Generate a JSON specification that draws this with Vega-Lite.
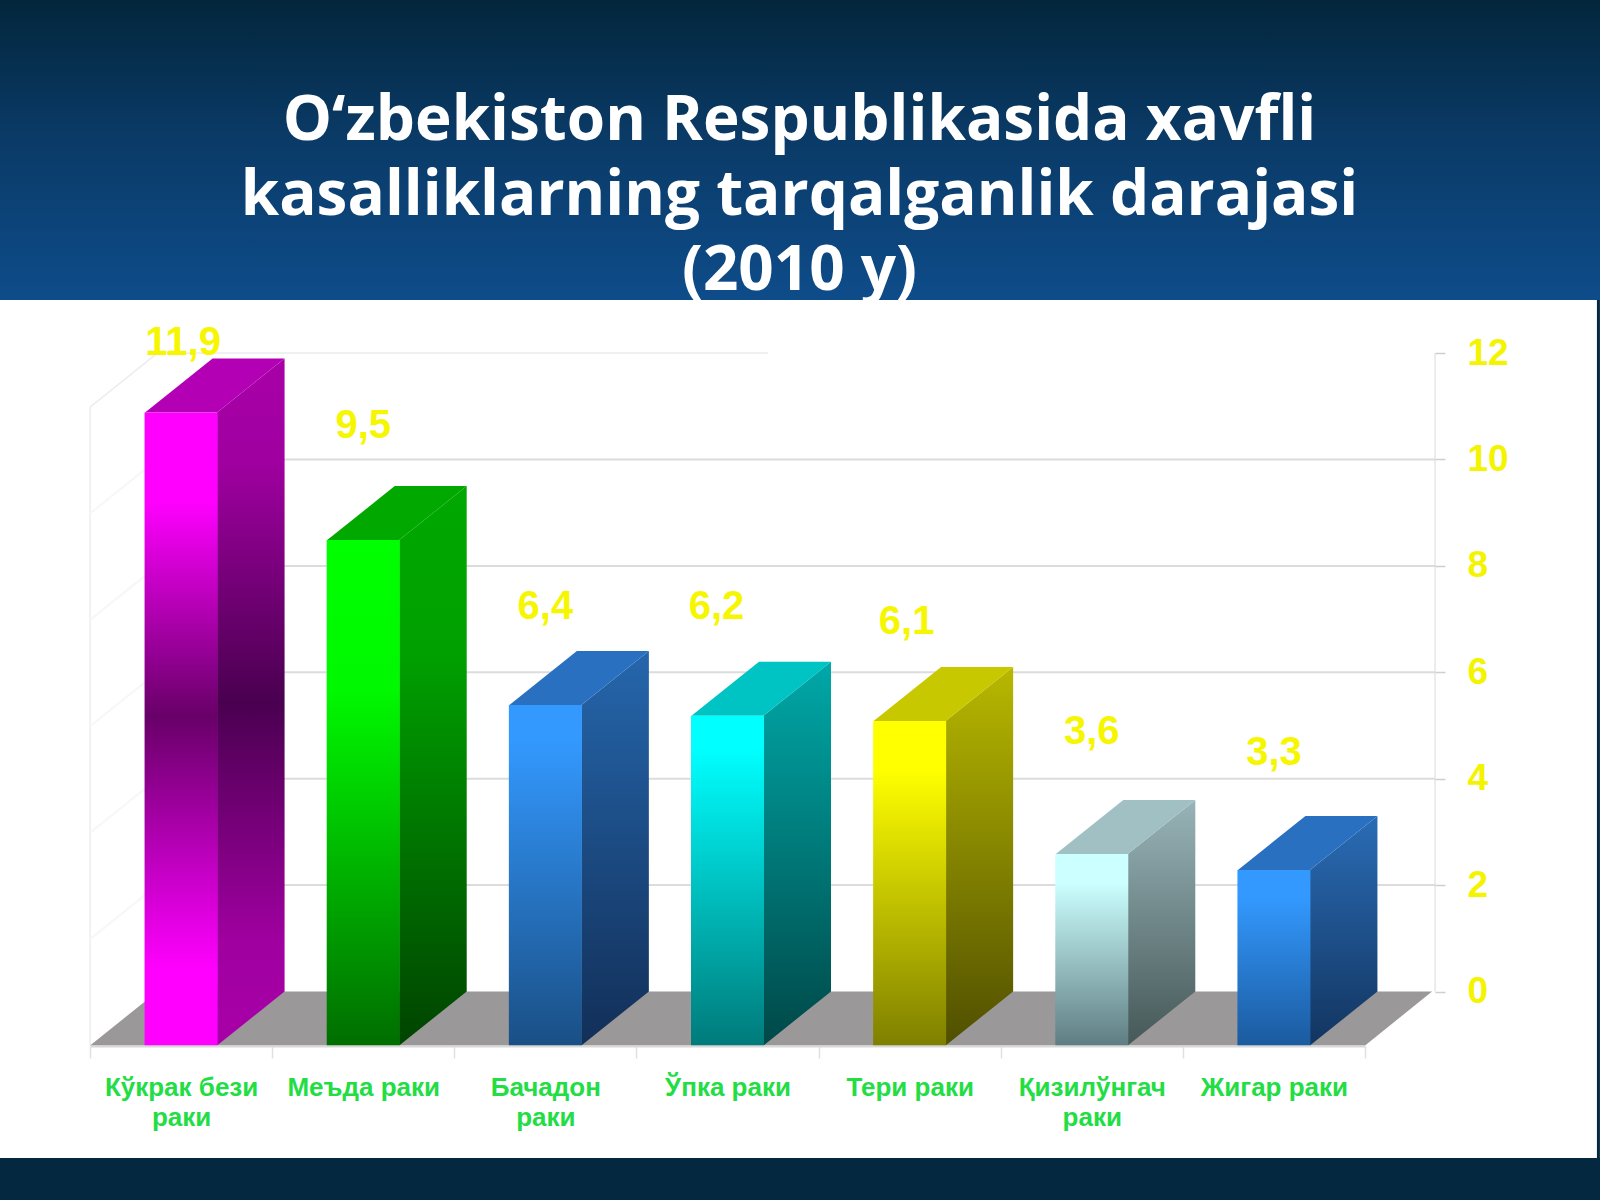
{
  "$schema": "https://vega.github.io/schema/vega-lite/v6.json",
  "width": 1600,
  "height": 1200,
  "padding": 0,
  "autosize": "none",
  "background": "#03283f",
  "view": {"stroke": null},
  "datasets": {
    "cancers": [
      {"category": "Кўкрак бези раки", "value": 11.9, "label": "11,9"},
      {"category": "Меъда раки", "value": 9.5, "label": "9,5"},
      {"category": "Бачадон раки", "value": 6.4, "label": "6,4"},
      {"category": "Ўпка раки", "value": 6.2, "label": "6,2"},
      {"category": "Тери раки", "value": 6.1, "label": "6,1"},
      {"category": "Қизилўнгач раки", "value": 3.6, "label": "3,6"},
      {"category": "Жигар раки", "value": 3.3, "label": "3,3"}
    ],
    "levels": [{"level": 2}, {"level": 4}, {"level": 6}, {"level": 8}, {"level": 10}],
    "base": [{"level": 0}]
  },
  "data": {"name": "cancers"},
  "encoding": {
    "x": {
      "field": "category",
      "type": "nominal",
      "sort": null,
      "title": null,
      "scale": {
        "type": "band",
        "domain": ["Кўкрак бези раки", "Меъда раки", "Бачадон раки", "Ўпка раки", "Тери раки", "Қизилўнгач раки", "Жигар раки"],
        "range": [90, 1365],
        "paddingInner": 0,
        "paddingOuter": 0
      },
      "axis": {
        "orient": "bottom",
        "offset": -154,
        "zindex": 1,
        "grid": false,
        "tickBand": "extent",
        "tickSize": 12,
        "tickColor": "#e0e0e0",
        "tickWidth": 1.5,
        "domainColor": "#d8d8d8",
        "domainWidth": 2,
        "labelAngle": 0,
        "labelAlign": "center",
        "labelBaseline": "top",
        "labelOverlap": false,
        "labelBound": false,
        "labelFlush": false,
        "labelPadding": 16,
        "labelFont": "Liberation Sans",
        "labelFontWeight": "bold",
        "labelFontSize": 26,
        "labelLineHeight": 30,
        "labelColor": "#22dd44",
        "labelExpr": "datum.label == 'Кўкрак бези раки' ? ['Кўкрак бези', 'раки'] : datum.label == 'Бачадон раки' ? ['Бачадон', 'раки'] : datum.label == 'Қизилўнгач раки' ? ['Қизилўнгач', 'раки'] : datum.label"
      }
    },
    "y": {
      "field": "value",
      "type": "quantitative",
      "title": null,
      "scale": {"domain": [-3.919, 18.637], "range": [1200, 0], "nice": false, "zero": false},
      "axis": {
        "orient": "right",
        "offset": -165,
        "zindex": 1,
        "grid": false,
        "domain": false,
        "values": [0, 2, 4, 6, 8, 10, 12],
        "tickSize": 10,
        "tickColor": "#cfcfcf",
        "tickWidth": 1.5,
        "labelPadding": 22,
        "labelFont": "Liberation Sans",
        "labelFontWeight": "bold",
        "labelFontSize": 37,
        "labelColor": "#f4f400"
      }
    }
  },
  "layer": [
    {
      "mark": {
        "type": "rect",
        "fill": {
          "gradient": "linear", "x1": 0, "y1": 0, "x2": 0, "y2": 1,
          "stops": [
            {"offset": 0, "color": "#03263c"},
            {"offset": 0.45, "color": "#0a3a66"},
            {"offset": 1, "color": "#0e4c8a"}
          ]
        }
      },
      "encoding": {"x": null, "y": {"datum": 18.637}, "y2": {"datum": 12.998}}
    },
    {
      "data": {"values": [{"heading": "Ўпка раки", "level": 16.006}]},
      "mark": {
        "type": "text",
        "font": "Open Sans",
        "fontWeight": "bold",
        "fontSize": 62,
        "lineHeight": 75,
        "align": "center",
        "baseline": "alphabetic",
        "fill": "#ffffff",
        "dx": 72
      },
      "encoding": {
        "x": {"field": "heading", "type": "nominal"},
        "y": {"field": "level", "type": "quantitative"},
        "text": {"value": ["O‘zbekiston Respublikasida xavfli", "kasalliklarning tarqalganlik darajasi ", "(2010 y)"]}
      }
    },
    {
      "mark": {"type": "rect", "fill": "#ffffff"},
      "encoding": {"x": null, "y": {"datum": 12.998}, "y2": {"datum": -3.13}}
    },
    {
      "mark": {"type": "point", "filled": false, "stroke": "#03283f", "strokeWidth": 3, "size": 4, "opacity": 1,
        "shape": "M324.5,-691.5 L324.5,166.5"},
      "data": {"name": "base"},
      "encoding": {"x": {"datum": "Жигар раки"}, "y": {"field": "level", "type": "quantitative"}}
    },
    {
      "mark": {"type": "point", "filled": false, "stroke": "#ededed", "strokeWidth": 1.5, "size": 4, "opacity": 1,
        "shape": "M-91,54 L-91,-584.4 M-91,-584.4 L-23.7,-638.4"},
      "data": {"name": "base"},
      "encoding": {"x": {"datum": "Кўкрак бези раки"}, "y": {"field": "level", "type": "quantitative"}}
    },
    {
      "mark": {"type": "point", "filled": false, "stroke": "#e6e6e6", "strokeWidth": 1.5, "size": 4, "opacity": 1,
        "shape": "M1254,0 L1254,-638.4"},
      "data": {"name": "base"},
      "encoding": {"x": {"datum": "Кўкрак бези раки"}, "y": {"field": "level", "type": "quantitative"}}
    },
    {
      "mark": {"type": "point", "filled": false, "stroke": "#f7f7f7", "strokeWidth": 2, "size": 4, "opacity": 1,
        "shape": "M-91,54 L-23.7,0"},
      "data": {"name": "levels"},
      "encoding": {"x": {"datum": "Кўкрак бези раки"}, "y": {"field": "level", "type": "quantitative"}}
    },
    {
      "mark": {"type": "point", "filled": false, "stroke": "#dcdcdc", "strokeWidth": 2, "size": 4, "opacity": 1,
        "shape": "M-23.7,0 L1254,0"},
      "data": {"name": "levels"},
      "encoding": {"x": {"datum": "Кўкрак бези раки"}, "y": {"field": "level", "type": "quantitative"}}
    },
    {
      "mark": {"type": "point", "filled": false, "stroke": "#f0f0f0", "strokeWidth": 2, "size": 4, "opacity": 1,
        "shape": "M-23.7,0 L587,0"},
      "data": {"values": [{"level": 12}]},
      "encoding": {"x": {"datum": "Кўкрак бези раки"}, "y": {"field": "level", "type": "quantitative"}}
    },
    {
      "mark": {"type": "point", "filled": true, "fill": "#9a9899", "size": 4, "opacity": 1,
        "shape": "M-91,54 L1184,54 L1251,0 L-23.7,0 Z"},
      "data": {"name": "base"},
      "encoding": {"x": {"datum": "Кўкрак бези раки"}, "y": {"field": "level", "type": "quantitative"}}
    },
    {
      "mark": {"type": "point", "filled": true, "size": 4, "opacity": 1},
      "encoding": {
        "shape": {
          "field": "category", "type": "nominal", "legend": null,
          "scale": {
            "domain": ["Кўкрак бези раки", "Меъда раки", "Бачадон раки", "Ўпка раки", "Тери раки", "Қизилўнгач раки", "Жигар раки"],
            "range": [
              "M36,54 L103.5,0 L103.5,633.1 L36,687.1 Z",
              "M36,54 L103.5,0 L103.5,505.4 L36,559.4 Z",
              "M36,54 L103.5,0 L103.5,340.5 L36,394.5 Z",
              "M36,54 L103.5,0 L103.5,329.8 L36,383.8 Z",
              "M36,54 L103.5,0 L103.5,324.5 L36,378.5 Z",
              "M36,54 L103.5,0 L103.5,191.5 L36,245.5 Z",
              "M36,54 L103.5,0 L103.5,175.6 L36,229.6 Z"
            ]
          }
        },
        "fill": {
          "condition": [
            {"test": "datum.category == 'Кўкрак бези раки'", "value": {"gradient": "linear", "x1": 0, "y1": 0, "x2": 0, "y2": 1, "stops": [{"offset": 0, "color": "#a800a8"}, {"offset": 0.15, "color": "#a000a0"}, {"offset": 0.5, "color": "#4a0050"}, {"offset": 0.85, "color": "#a000a0"}, {"offset": 1, "color": "#a800a8"}]}},
            {"test": "datum.category == 'Меъда раки'", "value": {"gradient": "linear", "x1": 0, "y1": 0, "x2": 0, "y2": 1, "stops": [{"offset": 0, "color": "#00a800"}, {"offset": 0.3, "color": "#00a000"}, {"offset": 1, "color": "#004400"}]}},
            {"test": "datum.category == 'Бачадон раки'", "value": {"gradient": "linear", "x1": 0, "y1": 0, "x2": 0, "y2": 1, "stops": [{"offset": 0, "color": "#2566ac"}, {"offset": 1, "color": "#122f58"}]}},
            {"test": "datum.category == 'Ўпка раки'", "value": {"gradient": "linear", "x1": 0, "y1": 0, "x2": 0, "y2": 1, "stops": [{"offset": 0, "color": "#00a8a8"}, {"offset": 1, "color": "#004848"}]}},
            {"test": "datum.category == 'Тери раки'", "value": {"gradient": "linear", "x1": 0, "y1": 0, "x2": 0, "y2": 1, "stops": [{"offset": 0, "color": "#b8b800"}, {"offset": 1, "color": "#504f00"}]}},
            {"test": "datum.category == 'Қизилўнгач раки'", "value": {"gradient": "linear", "x1": 0, "y1": 0, "x2": 0, "y2": 1, "stops": [{"offset": 0, "color": "#98b4b8"}, {"offset": 1, "color": "#465858"}]}}
          ],
          "value": {"gradient": "linear", "x1": 0, "y1": 0, "x2": 0, "y2": 1, "stops": [{"offset": 0, "color": "#2a6cb5"}, {"offset": 1, "color": "#123560"}]}
        }
      }
    },
    {
      "mark": {"type": "point", "filled": true, "size": 4, "opacity": 1, "shape": "M-36,54 L36,54 L103.5,0 L31.5,0 Z"},
      "encoding": {
        "fill": {
          "field": "category", "type": "nominal", "legend": null,
          "scale": {
            "domain": ["Кўкрак бези раки", "Меъда раки", "Бачадон раки", "Ўпка раки", "Тери раки", "Қизилўнгач раки", "Жигар раки"],
            "range": ["#b400b4", "#00a800", "#2a70c0", "#00c4c4", "#c8c800", "#a0c0c4", "#2a70c0"]
          }
        }
      }
    },
    {
      "mark": {"type": "bar", "width": 73, "yOffset": 54, "y2Offset": 54},
      "encoding": {
        "y2": {"datum": 0},
        "fill": {
          "condition": [
            {"test": "datum.category == 'Кўкрак бези раки'", "value": {"gradient": "linear", "x1": 0, "y1": 0, "x2": 0, "y2": 1, "stops": [{"offset": 0, "color": "#ff00ff"}, {"offset": 0.14, "color": "#ff00ff"}, {"offset": 0.48, "color": "#680068"}, {"offset": 0.88, "color": "#ff00ff"}, {"offset": 1, "color": "#ff00ff"}]}},
            {"test": "datum.category == 'Меъда раки'", "value": {"gradient": "linear", "x1": 0, "y1": 0, "x2": 0, "y2": 1, "stops": [{"offset": 0, "color": "#00ff00"}, {"offset": 0.3, "color": "#00f800"}, {"offset": 1, "color": "#006e00"}]}},
            {"test": "datum.category == 'Бачадон раки'", "value": {"gradient": "linear", "x1": 0, "y1": 0, "x2": 0, "y2": 1, "stops": [{"offset": 0, "color": "#3399ff"}, {"offset": 0.1, "color": "#3399ff"}, {"offset": 1, "color": "#1a4f85"}]}},
            {"test": "datum.category == 'Ўпка раки'", "value": {"gradient": "linear", "x1": 0, "y1": 0, "x2": 0, "y2": 1, "stops": [{"offset": 0, "color": "#00ffff"}, {"offset": 0.1, "color": "#00ffff"}, {"offset": 1, "color": "#007a7a"}]}},
            {"test": "datum.category == 'Тери раки'", "value": {"gradient": "linear", "x1": 0, "y1": 0, "x2": 0, "y2": 1, "stops": [{"offset": 0, "color": "#ffff00"}, {"offset": 0.15, "color": "#ffff00"}, {"offset": 1, "color": "#7f7f00"}]}},
            {"test": "datum.category == 'Қизилўнгач раки'", "value": {"gradient": "linear", "x1": 0, "y1": 0, "x2": 0, "y2": 1, "stops": [{"offset": 0, "color": "#ccffff"}, {"offset": 0.15, "color": "#ccffff"}, {"offset": 1, "color": "#5f7d82"}]}}
          ],
          "value": {"gradient": "linear", "x1": 0, "y1": 0, "x2": 0, "y2": 1, "stops": [{"offset": 0, "color": "#3399ff"}, {"offset": 0.15, "color": "#3399ff"}, {"offset": 1, "color": "#1b5a9e"}]}
        }
      }
    },
    {
      "mark": {
        "type": "text",
        "font": "Liberation Sans",
        "fontWeight": "bold",
        "fontSize": 40,
        "baseline": "middle",
        "align": "center",
        "color": "#f6f600",
        "dy": {"expr": "[-15, -60, -44, -55, -45, -68, -63][indexof(domain('x'), datum.category)]"},
        "dx": {"expr": "[2, 0, 0, -11, -3, 0, 0][indexof(domain('x'), datum.category)]"}
      },
      "encoding": {"text": {"field": "label"}}
    },
    {
      "mark": {"type": "point", "filled": true, "fill": "#009a96", "stroke": "#007f7b", "strokeWidth": 1, "size": 4, "opacity": 1,
        "shape": "M78.4,-149.6 L97,-149.6 L97,-20.6 L134.5,-20.6 L88,25.7 L40.7,-20.6 L78.4,-20.6 Z"},
      "data": {"values": [{"arrow": "Қизилўнгач раки"}]},
      "encoding": {"x": {"field": "arrow", "type": "nominal"}, "y": {"datum": 6}}
    },
    {
      "mark": {"type": "point", "shape": "circle", "filled": true, "fill": "#7a0d0d", "size": 70, "opacity": 1, "xOffset": 54, "yOffset": -26},
      "data": {"values": [{"arrow": "Қизилўнгач раки"}]},
      "encoding": {"x": {"field": "arrow", "type": "nominal"}, "y": {"datum": 6}}
    }
  ]
}
